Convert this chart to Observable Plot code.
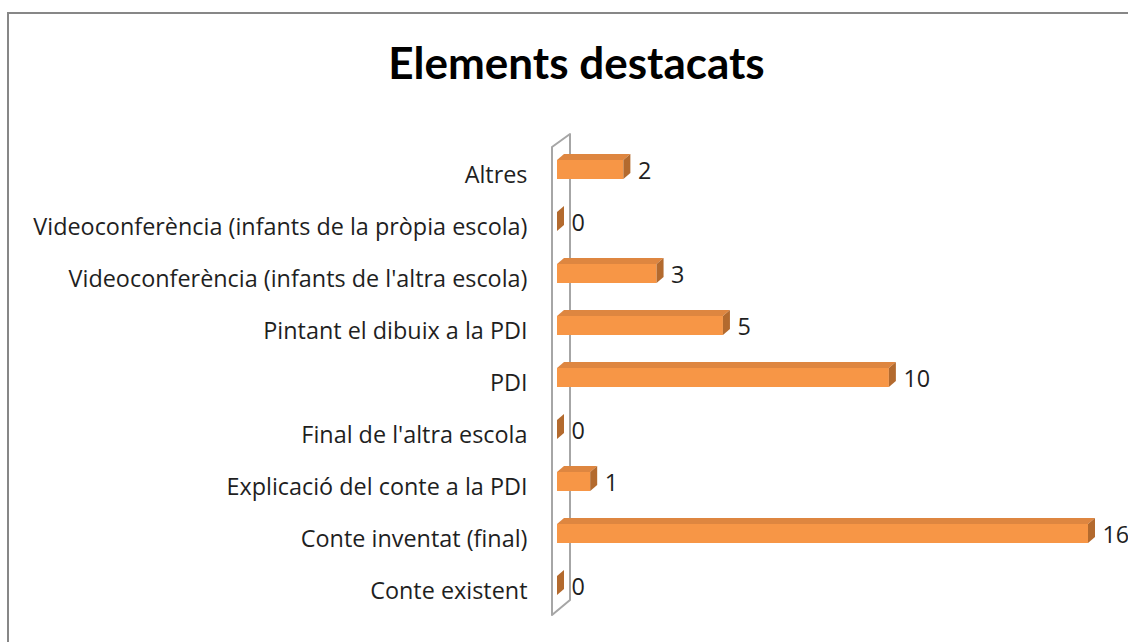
<!DOCTYPE html>
<html>
<head>
<meta charset="utf-8">
<script src="https://cdn.jsdelivr.net/npm/d3@7"></script>
<script src="https://cdn.jsdelivr.net/npm/@observablehq/plot@0.6"></script>
<style>
  html, body { margin: 0; padding: 0; background: #fff; overflow: hidden; }
  #wrap { position: relative; width: 1128px; height: 642px; overflow: hidden; font-family: "Open Sans", sans-serif; }
  #frame { position: absolute; left: 7px; top: 12px; width: 1300px; height: 800px; border: 2px solid #878787; box-sizing: border-box; }
  #title { position: absolute; left: 0; width: 1153px; top: 36px; line-height: 52px; text-align: center; font: bold 44px Lato, sans-serif; color: #000; margin: 0; }
  #chart { position: absolute; left: 0; top: 110px; }
</style>
</head>
<body>
<div id="wrap">
  <div id="frame"></div>
  <h1 id="title">Elements destacats</h1>
  <div id="chart"></div>
</div>
<script>
const categories = [
  "Altres",
  "Videoconferència (infants de la pròpia escola)",
  "Videoconferència (infants de l'altra escola)",
  "Pintant el dibuix a la PDI",
  "PDI",
  "Final de l'altra escola",
  "Explicació del conte a la PDI",
  "Conte inventat (final)",
  "Conte existent"
];
const values = [2, 0, 3, 5, 10, 0, 1, 16, 0];

const data = categories.map((c, i) => ({category: c, value: values[i]}));

const frontColor = "#F79646";
const topColor = "#DE8640";
const sideColor = "#B36A2E";
const depthX = 7, depthY = -6;

// fit the label font so the longest label spans the same width as in the reference
const labelFont = "'Open Sans', sans-serif";
const ctx = document.createElement("canvas").getContext("2d");
ctx.font = `100px ${labelFont}`;
const longest = d3.max(categories, c => ctx.measureText(c).width);
const labelSize = Math.round(100 * 495 / longest * 10) / 10;

function wallMark(index, scales, vals, dims) {
  const x0 = scales.x(0) - 5;
  const top = dims.marginTop;
  const bottom = dims.height - dims.marginBottom;
  const g = d3.create("svg:g");
  g.append("path")
    .attr("d", `M${x0},${top + 3}L${x0 + 18},${top - 10}L${x0 + 18},${bottom - 12}L${x0},${bottom + 3}Z`)
    .attr("fill", "none")
    .attr("stroke", "#A6A6A6")
    .attr("stroke-width", 2)
    .attr("stroke-linejoin", "round");
  return g.node();
}

function facesMark(index, scales) {
  const {x, y} = scales;
  const bw = y.bandwidth();
  const g = d3.create("svg:g");
  data.forEach(d => {
    const x0 = x(0), x1 = x(d.value), yt = y(d.category), yb = yt + bw;
    if (d.value > 0) {
      g.append("path")
        .attr("d", `M${x0},${yt}L${x0 + depthX},${yt + depthY}L${x1 + depthX},${yt + depthY}L${x1},${yt}Z`)
        .attr("fill", topColor);
    }
    g.append("path")
      .attr("d", `M${x1},${yt}L${x1 + depthX},${yt + depthY}L${x1 + depthX},${yb + depthY}L${x1},${yb}Z`)
      .attr("fill", sideColor);
  });
  return g.node();
}

const chart = Plot.plot({
  width: 1128,
  height: 532,
  marginLeft: 557,
  marginRight: 40,
  marginTop: 34,
  marginBottom: 30,
  style: {fontFamily: labelFont, fontSize: `${labelSize}px`, color: "#1f1f1f", background: "transparent", overflow: "visible"},
  x: {domain: [0, 16], axis: null},
  y: {domain: categories, paddingInner: 0.634, paddingOuter: 0.317, label: null, axis: null},
  marks: [
    wallMark,
    Plot.axisY({tickSize: 0, tickPadding: 30, dy: 5, fontSize: labelSize, label: null}),
    Plot.barX(data, {x: "value", y: "category", fill: frontColor}),
    facesMark,
    Plot.text(data, {x: "value", y: "category", text: d => String(d.value), dx: 14, dy: 1, textAnchor: "start", fontSize: labelSize, fill: "#1f1f1f"})
  ]
});
document.getElementById("chart").appendChild(chart);
</script>
</body>
</html>
